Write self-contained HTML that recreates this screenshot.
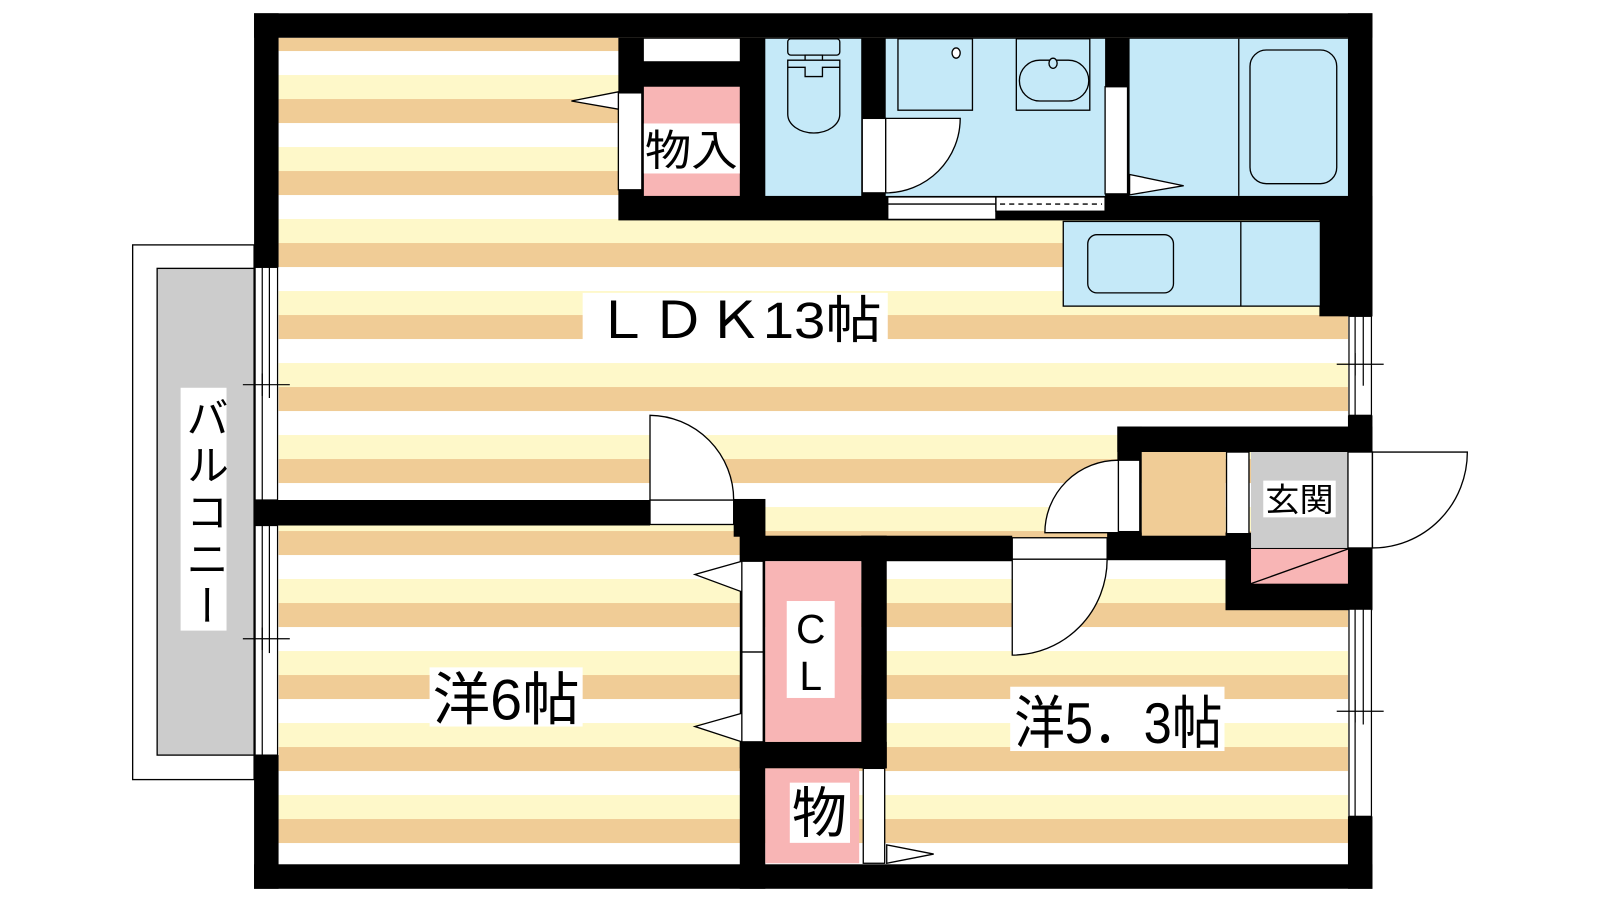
<!DOCTYPE html>
<html><head><meta charset="utf-8"><style>
html,body{margin:0;padding:0;background:#fff;width:1600px;height:900px;overflow:hidden}
svg{display:block}
text{font-family:"Liberation Sans","Noto Sans CJK JP",sans-serif;fill:#000}
</style></head><body>
<svg width="1600" height="900" viewBox="0 0 1568 882" preserveAspectRatio="none" xmlns="http://www.w3.org/2000/svg">
<defs>
<pattern id="st" patternUnits="userSpaceOnUse" x="0" y="26.5" width="1568" height="70.56">
<rect x="0" y="0" width="1568" height="23.52" fill="#F0CC96"/>
<rect x="0" y="23.52" width="1568" height="23.52" fill="#FFFFFF"/>
<rect x="0" y="47.04" width="1568" height="23.52" fill="#FEF8C9"/>
</pattern>
</defs>
<g stroke="#000" stroke-width="1.3">
<rect x="130" y="240" width="119" height="524" fill="#fff"/>
<rect x="154" y="263" width="95" height="477" fill="#CCCCCC"/>
</g>
<rect x="273" y="37" width="1048" height="810" fill="url(#st)"/>
<g fill="#000">
<rect x="249" y="13" width="1096" height="24"/>
<rect x="249" y="847" width="1096" height="24"/>
<rect x="249" y="13" width="24" height="249"/>
<rect x="249" y="490" width="24" height="25"/>
<rect x="249" y="740" width="24" height="131"/>
<rect x="1321" y="13" width="24" height="297"/>
<rect x="1321" y="407" width="24" height="36"/>
<rect x="1321" y="537" width="24" height="60"/>
<rect x="1321" y="800" width="24" height="71"/>
<rect x="606" y="37" width="715" height="179"/>
<rect x="1293" y="192" width="52" height="118"/>
<rect x="249" y="490" width="388" height="25"/>
<rect x="719" y="489" width="31" height="37"/>
<rect x="725" y="489" width="25" height="382"/>
<rect x="725" y="525" width="267" height="25"/>
<rect x="844" y="525" width="25" height="228"/>
<rect x="725" y="727" width="144" height="26"/>
<rect x="1095" y="418" width="250" height="25"/>
<rect x="1095" y="418" width="24" height="107"/>
<rect x="1085" y="522" width="117" height="27"/>
<rect x="1201" y="522" width="144" height="76"/>
</g>
<g fill="#fff" stroke="#000" stroke-width="1.2">
<rect x="250" y="262" width="22" height="228"/>
<rect x="250" y="515" width="22" height="225"/>
<rect x="1322" y="310" width="22" height="97"/>
<rect x="1322" y="597" width="22" height="203"/>
</g>
<g stroke="#000" stroke-width="1.2" fill="none">
<line x1="257" y1="262" x2="257" y2="490"/><line x1="264" y1="262" x2="264" y2="390"/>
<line x1="257" y1="515" x2="257" y2="740"/><line x1="264" y1="515" x2="264" y2="640"/>
<line x1="238" y1="377" x2="284" y2="377"/><line x1="257" y1="366" x2="257" y2="388"/>
<line x1="238" y1="626" x2="284" y2="626"/><line x1="257" y1="615" x2="257" y2="637"/>
<line x1="1328" y1="310" x2="1328" y2="407"/><line x1="1336" y1="310" x2="1336" y2="378"/>
<line x1="1310" y1="357" x2="1356" y2="357"/><line x1="1328" y1="346" x2="1328" y2="368"/>
<line x1="1328" y1="597" x2="1328" y2="800"/><line x1="1336" y1="597" x2="1336" y2="710"/>
<line x1="1310" y1="697" x2="1356" y2="697"/><line x1="1328" y1="686" x2="1328" y2="708"/>
</g>
<g stroke="#000" stroke-width="1.3">
<rect x="631" y="38" width="94" height="22" fill="#fff" stroke="none"/>
<rect x="631" y="85" width="94" height="107" fill="#F8B5B5" stroke="none"/>
<rect x="606" y="91" width="23" height="95" fill="#fff"/>
<polygon points="606,90 560,99 606,107" fill="#fff"/>
<rect x="750" y="38" width="94" height="154" fill="#C5E9F8" stroke="none"/>
<rect x="772" y="38" width="51" height="16" rx="3" fill="#C5E9F8"/>
<rect x="789" y="54" width="17" height="5" fill="#C5E9F8"/>
<path d="M772 59 H823 V112 A25 18 0 0 1 772 112 Z" fill="#C5E9F8"/>
<path d="M772 66 H789 V75 H806 V66 H823" fill="none"/>
<rect x="868" y="38" width="215" height="154" fill="#C5E9F8" stroke="none"/>
<rect x="880" y="38" width="73" height="70" fill="#C5E9F8"/>
<ellipse cx="937" cy="52" rx="4" ry="5" fill="#fff"/>
<rect x="996" y="38" width="72" height="70" fill="#C5E9F8"/>
<rect x="999" y="59" width="68" height="40" rx="20" fill="#C5E9F8"/>
<ellipse cx="1032" cy="62" rx="4" ry="5" fill="#C5E9F8"/>
<rect x="845" y="116" width="23" height="73" fill="#fff"/>
<path d="M868 116 H941 A73 73 0 0 1 868 189 Z" fill="#fff"/>
<rect x="870" y="193" width="106" height="7" fill="#fff"/>
<rect x="870" y="200" width="106" height="15" fill="#fff"/>
<rect x="976" y="193" width="107" height="14" fill="#fff"/>
<line x1="980" y1="200" x2="1080" y2="200" stroke-dasharray="5,4"/>
<rect x="1107" y="38" width="214" height="154" fill="#C5E9F8" stroke="none"/>
<line x1="1214" y1="38" x2="1214" y2="192"/>
<rect x="1225" y="49" width="85" height="131" rx="16" fill="#C5E9F8"/>
<rect x="1083" y="85" width="22" height="105" fill="#fff"/>
<polygon points="1107,171 1160,182 1107,191" fill="#fff"/>
<rect x="1042" y="217" width="252" height="83" fill="#C5E9F8"/>
<line x1="1216" y1="217" x2="1216" y2="300"/>
<rect x="1066" y="230" width="84" height="57" rx="9" fill="#C5E9F8"/>
</g>
<g stroke="#000" stroke-width="1.3">
<rect x="637" y="490" width="82" height="24" fill="#fff"/>
<path d="M637 490 V407 A83 83 0 0 1 719 490 Z" fill="#fff"/>
<rect x="750" y="550" width="94" height="177" fill="#F8B5B5" stroke="none"/>
<rect x="727" y="550" width="21" height="89" fill="#fff"/>
<rect x="727" y="639" width="21" height="88" fill="#fff"/>
<polygon points="727,550 681,563 727,580" fill="#fff"/>
<polygon points="727,699 681,712 727,727" fill="#fff"/>
<rect x="750" y="753" width="92" height="93" fill="#F8B5B5" stroke="none"/>
<rect x="846" y="753" width="21" height="93" fill="#fff"/>
<polygon points="869,828 915,837 869,846" fill="#fff"/>
<rect x="992" y="527" width="93" height="21" fill="#fff"/>
<path d="M992 548 H1085 A93 94 0 0 1 992 642 Z" fill="#fff"/>
<rect x="1119" y="443" width="82" height="82" fill="#F0CC96" stroke="none"/>
<rect x="1096" y="451" width="21" height="70" fill="#fff"/>
<path d="M1096 451 V522 H1024 A72 71 0 0 1 1096 451 Z" fill="#fff"/>
<rect x="1202" y="443" width="22" height="80" fill="#fff"/>
<rect x="1226" y="443" width="95" height="94" fill="#CCCCCC" stroke="none"/>
<rect x="1226" y="538" width="95" height="34" fill="#F8B5B5" stroke="none"/>
<line x1="1226" y1="572" x2="1321" y2="538"/>
<rect x="1321" y="443" width="24" height="94" fill="#fff"/>
<path d="M1345 443 H1438 A93 94 0 0 1 1345 537 Z" fill="#fff"/>
</g>
<rect x="571" y="287" width="299" height="48" fill="#fff"/>
<text x="582" y="331" font-size="50" textLength="282" lengthAdjust="spacingAndGlyphs">ＬＤＫ13帖</text>
<rect x="631" y="121" width="94" height="49" fill="#fff"/>
<text x="632" y="162" font-size="42" textLength="91" lengthAdjust="spacingAndGlyphs">物入</text>
<rect x="421" y="654" width="150" height="58" fill="#fff"/>
<text x="424" y="705" font-size="56" textLength="144" lengthAdjust="spacingAndGlyphs">洋6帖</text>
<rect x="990" y="673" width="210" height="63" fill="#fff"/>
<text x="994" y="728" font-size="56" textLength="204" lengthAdjust="spacingAndGlyphs">洋5．3帖</text>
<rect x="771" y="589" width="47" height="95" fill="#fff"/>
<text x="794.5" y="630" font-size="40" text-anchor="middle">C</text>
<text x="794.5" y="676" font-size="40" text-anchor="middle">L</text>
<rect x="774" y="767" width="59" height="59" fill="#fff"/>
<text x="803" y="816" font-size="54" text-anchor="middle">物</text>
<rect x="1238" y="471" width="71" height="36" fill="#fff"/>
<text x="1240" y="501" font-size="32" textLength="67" lengthAdjust="spacingAndGlyphs">玄関</text>
<rect x="177" y="380" width="45" height="238" fill="#fff"/>
<text x="199.5" y="388" font-size="42" style="writing-mode:vertical-rl" letter-spacing="4">バルコニー</text>
</svg>
</body></html>
